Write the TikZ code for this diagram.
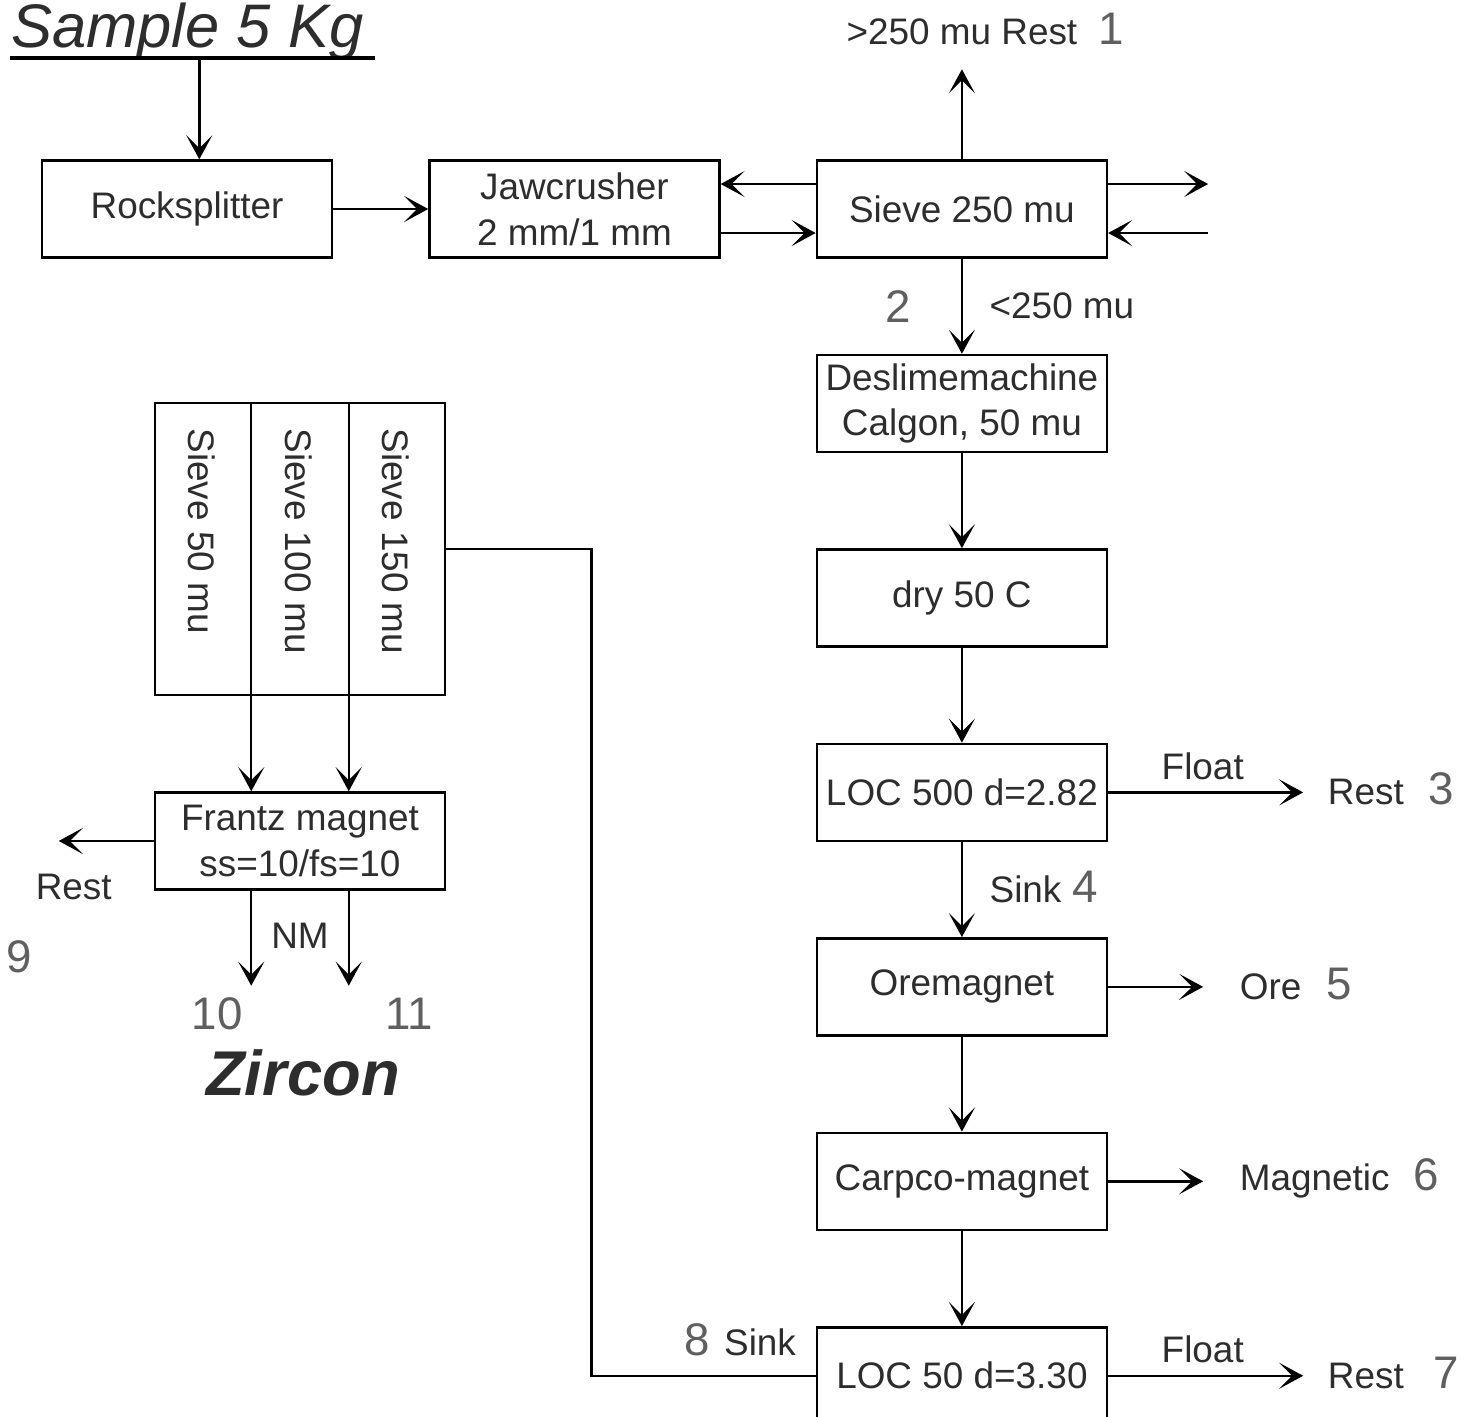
\documentclass[tikz,border=0pt]{standalone}
\usepackage{fontspec}
\setmainfont{Liberation Sans}
\usetikzlibrary{positioning, arrows.meta, calc}
\definecolor{inkgrey}{RGB}{45,45,45}
\definecolor{numgrey}{RGB}{95,95,95}

\begin{document}
\begin{tikzpicture}[
  node distance=0.95cm,
  line width=0.7pt,
  box/.style={draw, minimum width=2.9cm, minimum height=0.97cm, inner sep=1pt, align=center, font=\fontsize{10.5}{13}\selectfont, text=inkgrey},
  lbl/.style={font=\fontsize{10.5}{13}\selectfont, text=inkgrey, inner sep=1pt},
  num/.style={font=\fontsize{13}{15}\selectfont, text=numgrey, inner sep=1pt},
  arr/.style={-{Stealth[length=2.4mm, width=2.6mm, inset=1.3mm]}}
]
\useasboundingbox (0,0) rectangle (14.71,-14.16);

\node (title) [anchor=base west, inner sep=0pt, text=inkgrey, font=\fontsize{17.5}{20}\selectfont\itshape] at (0.10,-0.47) {Sample 5 Kg};
\draw[line width=1.3pt] ([yshift=-1.1mm]title.base west) -- ([xshift=1mm, yshift=-1.1mm]title.base east);

\node (rock) [box] at (1.87,-2.09) {Rocksplitter};
\node (jaw) [box, right=of rock] {Jawcrusher\\2 mm/1 mm};
\node (sieve) [box, right=of jaw] {Sieve 250 mu};
\node (deslime) [box, below=of sieve] {Deslimemachine\\Calgon, 50 mu};
\node (dry) [box, below=of deslime] {dry 50 C};
\node (loc500) [box, below=of dry] {LOC 500 d=2.82};
\node (oremag) [box, below=of loc500] {Oremagnet};
\node (carpco) [box, below=of oremag] {Carpco-magnet};
\node (loc50) [box, below=of carpco] {LOC 50 d=3.30};

\node (out1) [lbl, above=1.1cm of sieve] {>250 mu Rest};
\node [num, anchor=base west] at ([xshift=1.2mm]out1.base east) {1};
\coordinate (recR) at ($(sieve.east)+(1.0,0)$);

\node (rest3) [lbl, right=2.15cm of loc500] {Rest};
\node [num, anchor=base west] at ([xshift=1.5mm]rest3.base east) {3};
\node (ore) [lbl, right=1.27cm of oremag] {Ore};
\node [num, anchor=base west] at ([xshift=1.6mm]ore.base east) {5};
\node (magn) [lbl, right=1.27cm of carpco] {Magnetic};
\node [num, anchor=base west] at ([xshift=1.4mm]magn.base east) {6};
\node (rest7) [lbl, right=2.15cm of loc50] {Rest};
\node [num, anchor=base west] at ([xshift=2mm]rest7.base east) {7};
\node (sink8) [lbl, anchor=south east] at ([xshift=-1.5mm, yshift=1.5mm]loc50.west) {Sink};
\node [num, anchor=base east] at ([xshift=-0.5mm]sink8.base west) {8};

\node (sievegrp) [draw, minimum width=2.9cm, minimum height=2.92cm, inner sep=0pt] at (3.00,-5.49) {};
\coordinate (divA) at ($(sievegrp.south west)!1/3!(sievegrp.south east)$);
\coordinate (divB) at ($(sievegrp.south west)!2/3!(sievegrp.south east)$);
\foreach \w [count=\i] in {50,100,150}
  \node (sv\i) [lbl, rotate=-90, anchor=west] at ($(sievegrp.north west)+(0.967*\i-0.484,-0.22)$) {Sieve \w\ mu};
\node (frantz) [box, below=of sievegrp] {Frantz magnet\\ss=10/fs=10};
\coordinate (restL) at ($(frantz.west)+(-0.95,0)$);
\node (rest9) [lbl, below=0.285cm of restL, xshift=0.15cm] {Rest};
\node [num] at ($(rest9)+(-0.55,-0.70)$) {9};
\coordinate (out10) at ($(frantz.south -| divA)+(0,-0.95)$);
\coordinate (out11) at ($(frantz.south -| divB)+(0,-0.95)$);
\node [lbl] at ($(out10)!0.5!(out11)+(0,0.5)$) {NM};
\node [num] at ($(out10)+(-0.34,-0.28)$) {10};
\node [num] at ($(out11)+(0.60,-0.28)$) {11};
\node (zircon) [text=inkgrey, font=\fontsize{18}{20}\selectfont\bfseries\itshape] at ($(out10)!0.5!(out11)+(0.03,-0.87)$) {Zircon};

\draw[arr] ([xshift=1.2mm, yshift=-1.1mm]title.base) -- ([xshift=1.2mm]title.base |- rock.north);
\draw[arr] (rock) -- (jaw);
\draw[arr] ([yshift=-2.4mm]jaw.east) -- ([yshift=-2.4mm]sieve.west);
\draw[arr] ([yshift=2.5mm]sieve.west) -- ([yshift=2.5mm]jaw.east);
\draw[arr, shorten >=2mm] (sieve) -- (out1);
\draw[arr] ([yshift=2.5mm]sieve.east) -- ([yshift=2.5mm]recR);
\draw[arr] ([yshift=-2.4mm]recR) -- ([yshift=-2.4mm]sieve.east);
\draw[arr] (sieve) -- node[num, left=0.46cm] {2} node[lbl, right=0.23cm] {<250 mu} (deslime);
\draw[arr] (deslime) -- (dry);
\draw[arr] (dry) -- (loc500);
\draw[arr] (loc500) -- node[lbl, right=0.23cm] (sink4) {Sink} (oremag);
\node [num, anchor=base west] at ([xshift=0.2mm]sink4.base east) {4};
\draw[arr] (oremag) -- (carpco);
\draw[arr] (carpco) -- (loc50);
\draw[arr, shorten >=2mm] (loc500) -- node[lbl, above=0.8mm, pos=0.44] {Float} (rest3);
\draw[arr, shorten >=3.2mm] (oremag) -- (ore);
\draw[arr, shorten >=3.2mm] (carpco) -- (magn);
\draw[arr, shorten >=2mm] (loc50) -- node[lbl, above=0.8mm, pos=0.44] {Float} (rest7);
\draw (loc50.west) -- ++(-2.24,0) |- (sievegrp.east);

\draw (sievegrp.north -| divA) -- (divA);
\draw (sievegrp.north -| divB) -- (divB);
\draw[arr] (divA) -- (divA |- frantz.north);
\draw[arr] (divB) -- (divB |- frantz.north);
\draw[arr] (frantz.west) -- (restL);
\draw[arr] (frantz.south -| divA) -- (out10);
\draw[arr] (frantz.south -| divB) -- (out11);
\end{tikzpicture}
\end{document}
